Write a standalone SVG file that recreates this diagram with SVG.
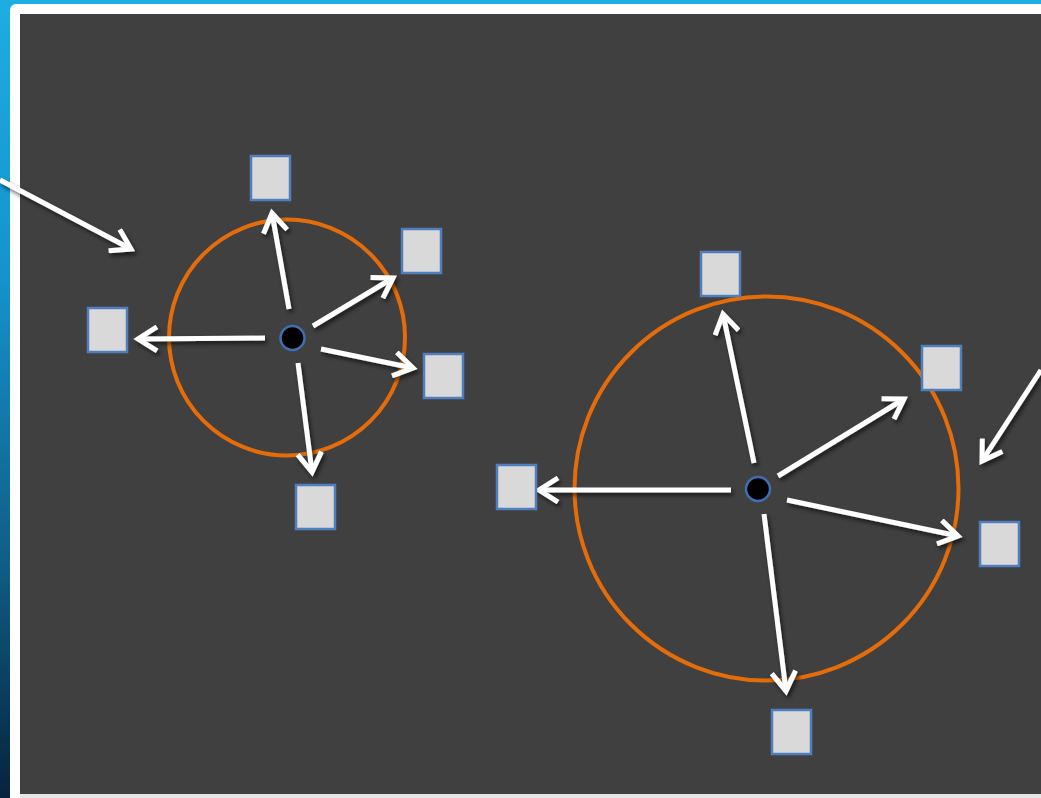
<svg xmlns="http://www.w3.org/2000/svg" width="1041" height="798" viewBox="0 0 1041 798">
<style>
.node rect{fill:#d9d9d9;stroke:#4f7fbf;stroke-width:2.5}
.ring{fill:none;stroke:#e46c0a;stroke-width:4}
.hub{fill:#000;stroke:#3f6fb0;stroke-width:2.5}
.conn line{stroke:#fff;stroke-width:5;fill:none;marker-end:url(#arr)}
</style>
<defs>
<linearGradient id="bg" x1="0" y1="0" x2="0" y2="1">
<stop offset="0" stop-color="#1caee2"/>
<stop offset="0.35" stop-color="#1592cc"/>
<stop offset="0.7" stop-color="#0f5f86"/>
<stop offset="1" stop-color="#07233d"/>
</linearGradient>
<filter id="sh" x="-20%" y="-20%" width="140%" height="140%">
<feDropShadow dx="2" dy="3" stdDeviation="2" flood-color="#000" flood-opacity="0.6"/>
</filter>
<marker id="arr" viewBox="0 0 28 28" markerWidth="28" markerHeight="28" refX="23" refY="14" orient="auto" markerUnits="userSpaceOnUse">
<path d="M4,2 L23,14 L4,26" fill="none" stroke="#fff" stroke-width="5" stroke-linejoin="miter"/>
</marker>
</defs>
<rect x="0" y="0" width="1041" height="798" fill="url(#bg)"/>
<rect x="10" y="4" width="1045" height="800" rx="6" fill="#fff"/>
<rect x="20" y="14" width="1030" height="780" fill="#404040"/>
<rect x="20" y="794" width="1030" height="4" fill="#e6e6e6"/>

<g id="rings">
<circle class="ring" cx="287" cy="337.5" r="118"/>
<circle class="ring" cx="766.5" cy="488.5" r="192"/>
</g>

<g class="conn" id="connectors" filter="url(#sh)">
<line x1="0" y1="180" x2="131" y2="249"/>
<line x1="1041" y1="370" x2="982" y2="461"/>
<line x1="289" y1="309" x2="272" y2="213"/>
<line x1="313" y1="326" x2="393" y2="278"/>
<line x1="321" y1="349" x2="413" y2="368"/>
<line x1="265" y1="338" x2="138" y2="339"/>
<line x1="298" y1="363" x2="312" y2="472"/>
<line x1="754" y1="463" x2="723" y2="314"/>
<line x1="778" y1="476" x2="904" y2="399"/>
<line x1="787" y1="500" x2="958" y2="536"/>
<line x1="731" y1="490" x2="539" y2="490"/>
<line x1="764" y1="514" x2="786" y2="691"/>
</g>

<g id="hub-left"><circle class="hub" cx="292.5" cy="338" r="12"/></g>
<g id="hub-right"><circle class="hub" cx="758" cy="489" r="12"/></g>

<g id="n1" class="node"><rect x="251" y="156" width="39" height="44"/></g>
<g id="n2" class="node"><rect x="402" y="229" width="39" height="44"/></g>
<g id="n3" class="node"><rect x="424" y="354" width="39" height="44"/></g>
<g id="n4" class="node"><rect x="88" y="308" width="39" height="44"/></g>
<g id="n5" class="node"><rect x="296" y="485" width="39" height="44"/></g>
<g id="n6" class="node"><rect x="701" y="252" width="39" height="44"/></g>
<g id="n7" class="node"><rect x="922" y="346" width="39" height="44"/></g>
<g id="n8" class="node"><rect x="980" y="522" width="39" height="44"/></g>
<g id="n9" class="node"><rect x="497" y="465" width="39" height="44"/></g>
<g id="n10" class="node"><rect x="772" y="710" width="39" height="44"/></g>
</svg>
